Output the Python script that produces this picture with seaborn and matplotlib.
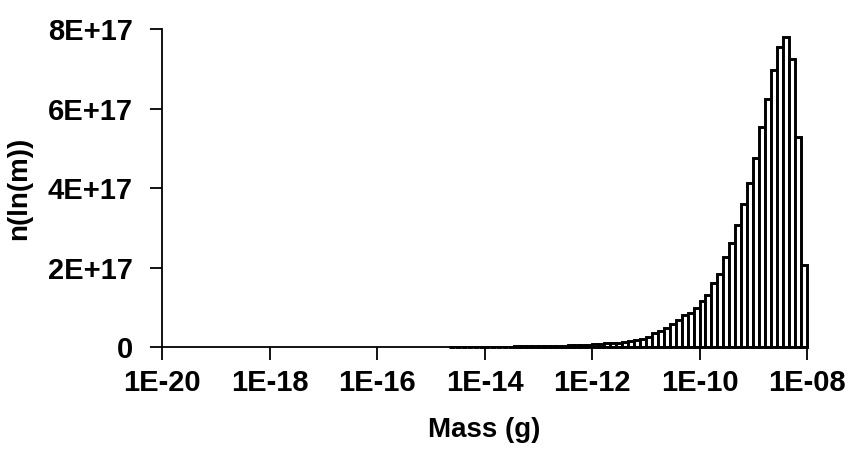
import numpy as np
import pandas as pd
import matplotlib
matplotlib.use("Agg")
import matplotlib.pyplot as plt
from matplotlib.ticker import FixedLocator, FuncFormatter, NullLocator
import seaborn as sns

# Number density per ln(m) bin, in units of 1E+17, ordered from lightest to heaviest bin.
# Bins are 1/9 decade wide and the heaviest bin ends at 1E-08 g.
bins_per_decade = 9
upper_mass_exp = -8
n_per_bin_e17 = [
    0.001, 0.0015, 0.002, 0.003, 0.004, 0.005, 0.006, 0.008, 0.009,
    0.010, 0.012, 0.014, 0.016, 0.018, 0.020, 0.022, 0.025, 0.028, 0.030, 0.035,
    0.04, 0.045, 0.05, 0.06, 0.07, 0.08, 0.09, 0.10, 0.11,
    0.13, 0.14, 0.17, 0.19, 0.25, 0.34, 0.40, 0.47, 0.57, 0.69, 0.80, 0.86,
    0.98, 1.15, 1.32, 1.60, 1.85, 2.26, 2.61, 3.07, 3.60, 4.13, 4.77, 5.53,
    6.25, 6.97, 7.55, 7.81, 7.26, 5.29, 2.06,
]

x_tick_exps = [-20, -18, -16, -14, -12, -10, -8]
y_ticks_e17 = [0, 2, 4, 6, 8]

n_bins = len(n_per_bin_e17)
lower_mass_exp = upper_mass_exp - n_bins / bins_per_decade
center_exps = lower_mass_exp + (np.arange(n_bins) + 0.5) / bins_per_decade

df = pd.DataFrame({
    "mass": 10.0 ** center_exps,
    "n": np.array(n_per_bin_e17) * 1e17,
})

sns.set_style("white")
plt.rcParams["font.family"] = ["Liberation Sans", "DejaVu Sans"]
plt.rcParams["font.weight"] = "bold"

fig = plt.figure(figsize=(8.51, 4.5), dpi=100)
ax = fig.add_axes([0.1904, 0.2289, 0.7579, 0.706])

sns.histplot(
    data=df, x="mass", weights="n", bins=n_bins,
    binrange=(lower_mass_exp, upper_mass_exp), log_scale=True,
    stat="count", fill=True, color="white", edgecolor="black",
    linewidth=2.1, alpha=1.0, ax=ax,
)
for patch in ax.patches:
    patch.set_clip_on(False)

ax.set_xlim(10.0 ** x_tick_exps[0], 10.0 ** x_tick_exps[-1])
ax.set_ylim(0, y_ticks_e17[-1] * 1e17)

ax.xaxis.set_major_locator(FixedLocator([10.0 ** e for e in x_tick_exps]))
ax.xaxis.set_minor_locator(NullLocator())
ax.xaxis.set_major_formatter(
    FuncFormatter(lambda v, _: "1E{:+03d}".format(int(round(np.log10(v)))))
)
ax.yaxis.set_major_locator(FixedLocator([t * 1e17 for t in y_ticks_e17]))
ax.yaxis.set_minor_locator(NullLocator())
ax.yaxis.set_major_formatter(
    FuncFormatter(lambda v, _: "0" if v == 0 else "{:d}E+17".format(int(round(v / 1e17))))
)

for side in ("top", "right"):
    ax.spines[side].set_visible(False)
for side in ("left", "bottom"):
    ax.spines[side].set_color("black")
    ax.spines[side].set_linewidth(1.3)

ax.tick_params(axis="both", which="major", direction="out", length=9, width=1.3,
               color="black", labelsize=21, labelcolor="black",
               bottom=True, left=True, top=False, right=False)
ax.tick_params(axis="x", pad=7)
ax.tick_params(axis="y", pad=12)
for lbl in ax.get_xticklabels() + ax.get_yticklabels():
    lbl.set_fontweight("bold")

ax.set_xlabel("Mass (g)", fontsize=20, fontweight="bold", color="black", labelpad=14)
ax.set_ylabel("n(ln(m))", fontsize=20, fontweight="bold", color="black", labelpad=11)

fig.savefig("out.png", dpi=100, facecolor="white")
